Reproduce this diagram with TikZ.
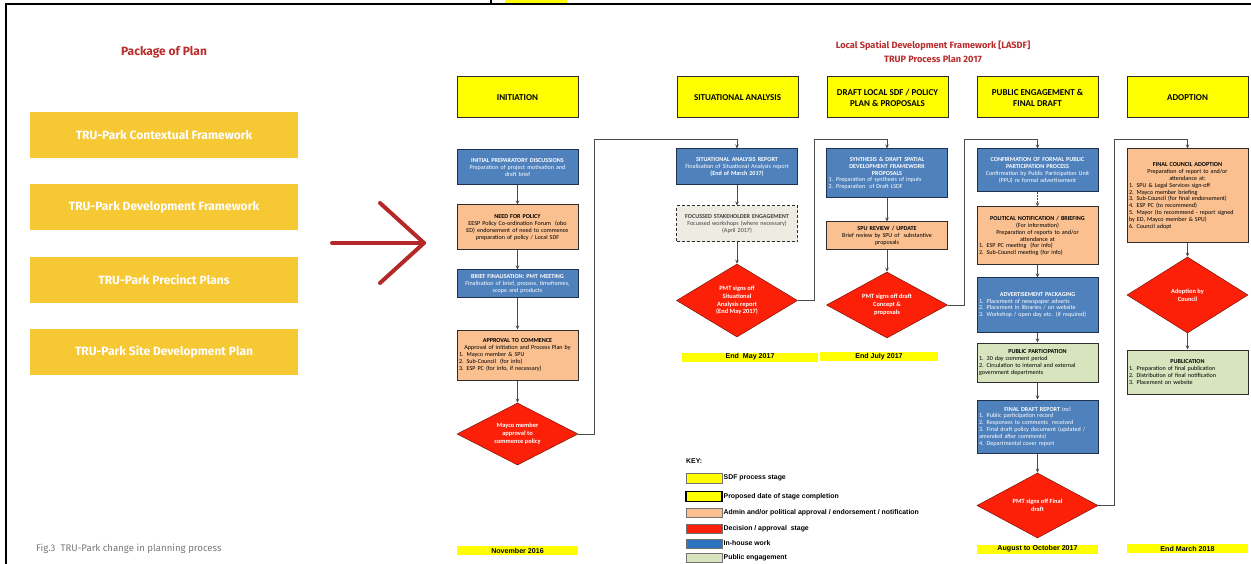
\documentclass[tikz,border=0pt]{standalone}
\usepackage{fontspec}
\setmainfont{Carlito}
\newfontfamily\arialf{Liberation Sans}
\newfontfamily\robf{Fira Sans}
\usetikzlibrary{shapes.geometric,arrows.meta}
\definecolor{yellowC}{RGB}{255,255,0}
\definecolor{goldC}{RGB}{246,200,52}
\definecolor{titleC}{RGB}{185,45,45}
\definecolor{arrowC}{RGB}{180,40,40}
\definecolor{blueC}{RGB}{79,129,189}
\definecolor{navyC}{RGB}{30,50,80}
\definecolor{peachC}{RGB}{250,192,144}
\definecolor{greenC}{RGB}{215,228,189}
\definecolor{redC}{RGB}{252,32,8}
\definecolor{decline}{RGB}{120,20,10}
\definecolor{boxline}{RGB}{45,45,45}
\definecolor{connC}{RGB}{75,75,75}
\definecolor{focusC}{RGB}{238,236,226}
\definecolor{keyblue}{RGB}{45,115,190}
\definecolor{capC}{RGB}{120,120,120}
\newcommand{\blst}[1]{\parbox[t]{117pt}{\raggedright #1}}
\begin{document}
\begin{tikzpicture}[x=1pt,y=-1pt,
  pbox/.style={rectangle, draw=boxline, line width=1pt, text width=118pt, inner xsep=1.5pt, inner ysep=0.5pt, align=center, font=\fontsize{6.1}{6.8}\selectfont},
  bluebox/.style={pbox, fill=blueC, draw=navyC, text=white},
  peachbox/.style={pbox, fill=peachC},
  greenbox/.style={pbox, fill=greenC},
  focusbox/.style={pbox, fill=focusC, dashed, dash pattern=on 3pt off 2pt, text=black!75},
  hdr/.style={rectangle, draw=boxline, line width=1pt, fill=yellowC, minimum width=121pt, minimum height=41pt, align=center, font=\fontsize{9}{11}\selectfont\bfseries, inner sep=0pt},
  dec/.style={diamond, draw=decline, line width=0.5pt, fill=redC, minimum width=121pt, inner sep=0pt, aspect=1.8, align=center, text=white, font=\fontsize{6.4}{7.8}\selectfont\bfseries},
  datebar/.style={rectangle, fill=yellowC, inner sep=0pt, minimum height=9pt, font=\arialf\fontsize{7.1}{8}\selectfont\bfseries},
  conn/.style={draw=connC, line width=0.7pt, -{Stealth[length=4pt,width=3.5pt]}},
  planbox/.style={rectangle, fill=goldC, minimum width=268pt, minimum height=46pt, inner sep=0pt, text=white, font=\robf\fontsize{12}{14}\selectfont\bfseries},
  swatch/.style={rectangle, draw=black!55, line width=0.5pt, minimum width=36pt, minimum height=9.5pt, inner sep=0pt},
  keylab/.style={anchor=west, inner sep=0pt, font=\arialf\fontsize{6.9}{8}\selectfont\bfseries}
]
\useasboundingbox (0,0) rectangle (1251,564);
\fill[white] (0,0) rectangle (1251,564);
% frame
\fill[yellowC] (505,0) rectangle (567,3);
\draw[line width=1.2pt] (491,0) -- (491,4);
\draw[line width=1.8pt] (5,4) -- (1251,4);
\draw[line width=2pt] (6,4) -- (6,564);

% left panel
\node[font=\robf\fontsize{12}{14}\selectfont\bfseries, text=titleC] (pkg) at (164,52) {Package of Plan};
\node[planbox] (pl1) at (164,135) {TRU-Park Contextual Framework};
\node[planbox] (pl2) at (164,207.5) {TRU-Park Development Framework};
\node[planbox] (pl3) at (164,280) {TRU-Park Precinct Plans};
\node[planbox] (pl4) at (164,352) {TRU-Park Site Development Plan};
\node[anchor=west, inner sep=0pt, font=\robf\fontsize{9.6}{11}\selectfont, text=capC] (cap) at (36,549) {Fig.3\ \ TRU-Park change in planning process};
\coordinate (arS) at (332,243);
\coordinate (arT) at (424,243);
\coordinate (arA) at (380,203);
\coordinate (arB) at (380,283);
\draw[arrowC, line width=4pt, line cap=round, line join=round] (arS) -- (arT);
\draw[arrowC, line width=4pt, line cap=round, line join=round] (arA) -- (arT) -- (arB);

% title
\node[font=\robf\fontsize{9.2}{14.3}\selectfont\bfseries, text=titleC, align=center] (title) at (933,52) {Local Spatial Development Framework [LASDF]\\TRUP Process Plan 2017};

% headers
\node[hdr] (h1) at (517.5,97.5) {INITIATION};
\node[hdr] (h2) at (737.5,97.5) {SITUATIONAL ANALYSIS};
\node[hdr] (h3) at (887.5,97.5) {DRAFT LOCAL SDF / POLICY\\PLAN \& PROPOSALS};
\node[hdr] (h4) at (1037.5,97.5) {PUBLIC ENGAGEMENT \&\\FINAL DRAFT};
\node[hdr] (h5) at (1187.5,97.5) {ADOPTION};

% column 1
\node[bluebox, minimum height=35pt] (b1) at (517.5,167.5) {\textbf{INITIAL PREPARATORY DISCUSSIONS}\\Preparation of project motivation and\\draft brief};
\node[peachbox, minimum height=45pt] (b2) at (517.5,227.5) {\textbf{NEED FOR POLICY}\\EESP Policy Co-ordination Forum\ \ (obo\\ED) endorsement of need to commence\\preparation of policy / Local SDF};
\node[bluebox, minimum height=28pt] (b3) at (517.5,284) {\textbf{BRIEF FINALISATION: PMT MEETING}\\Finalisation of brief, process, timeframes,\\scope and products};
\node[peachbox, minimum height=50pt] (b4) at (517.5,355) {\textbf{APPROVAL TO COMMENCE}\\Approval of initiation and Process Plan by\\\blst{1. Mayco member \& SPU\\2. Sub-Council\ \ (for info)\\3. ESP PC (for info, if necessary)}};
\node[dec, minimum height=62pt] (d1) at (517.5,434) {Mayco member\\approval to\\commence policy};
\node[datebar, minimum width=121pt] (t1) at (517.5,550.5) {November 2016};

% column 2
\node[bluebox, minimum height=36pt] (s1) at (737,167) {\textbf{SITUATIONAL ANALYSIS REPORT}\\Finalisation of Situational Analysis report\\\textbf{(End of March 2017)}};
\node[focusbox, minimum height=36pt] (s2) at (737,224) {\textbf{FOCUSSED STAKEHOLDER ENGAGEMENT}\\Focussed workshops (where necessary)\\(April 2017)};
\node[dec, minimum height=73pt] (d2) at (737,300.5) {PMT signs off\\Situational\\Analysis report\\(End May 2017)};
\node[datebar, minimum width=136pt] (t2) at (750,357) {End\ \ May 2017};

% column 3
\node[bluebox, minimum height=49pt] (y1) at (887,173.5) {\textbf{SYNTHESIS \& DRAFT SPATIAL}\\\textbf{DEVELOPMENT FRAMEWORK}\\\textbf{PROPOSALS}\\\blst{1. Preparation of synthesis of inputs\\2. Preparation\ \ of Draft LSDF}};
\node[peachbox, minimum height=28pt] (y2) at (887,236) {\textbf{SPU REVIEW / UPDATE}\\Brief review by SPU of\ \ substantive\\proposals};
\node[dec, minimum height=66pt] (d3) at (887,305) {PMT signs off draft\\Concept \&\\proposals};
\node[datebar, minimum width=118pt] (t3) at (879,356.5) {End July 2017};

% column 4
\node[bluebox, minimum height=43pt] (p1) at (1037.5,170.5) {\textbf{CONFIRMATION OF FORMAL PUBLIC}\\\textbf{PARTICIPATION PROCESS}\\Confirmation by Public Participation Unit\\(PPU) re formal advertisement};
\node[peachbox, minimum height=58pt] (p2) at (1037.5,236) {\textbf{POLITICAL NOTIFICATION / BRIEFING}\\(For information)\\Preparation of reports to and/or\\attendance at\\\blst{1. ESP PC meeting\ \ (for info)\\2. Sub-Council meeting (for info)}};
\node[bluebox, minimum height=54pt] (p3) at (1037.5,305) {\textbf{ADVERTISEMENT PACKAGING}\\\blst{1. Placement of newspaper adverts\\2. Placement in libraries / on website\\3. Workshop / open day etc. (if required)}};
\node[greenbox, minimum height=39pt] (p4) at (1037.5,362.5) {\textbf{PUBLIC PARTICIPATION}\\\blst{1. 30 day comment period\\2. Circulation to internal and external\\government departments}};
\node[bluebox, minimum height=53pt] (p5) at (1037.5,426.5) {\textbf{FINAL DRAFT REPORT} incl\\\blst{1. Public participation record\\2. Responses to comments\ \ received\\3. Final draft policy document (updated /\\amended after comments)\\4. Departmental cover report}};
\node[dec, minimum height=65pt] (d4) at (1037.5,505.5) {PMT signs off Final\\draft};
\node[datebar, minimum width=121pt] (t4) at (1037.5,549) {August to October 2017};

% column 5
\node[peachbox, minimum height=94pt] (a1) at (1187.5,196) {\textbf{FINAL COUNCIL ADOPTION}\\Preparation of report to and/or\\attendance at:\\\blst{1. SPU \& Legal Services sign-off\\2. Mayco member briefing\\3. Sub-Council (for final endorsement)\\4. ESP PC (to recommend)\\5. Mayor (to recommend - report signed\\by ED, Mayco member \& SPU)\\6. Council adopt}};
\node[dec, minimum height=76pt] (d5) at (1187.5,295) {Adoption by\\Council};
\node[greenbox, minimum height=44pt] (a2) at (1187.5,372) {\textbf{PUBLICATION}\\\blst{1. Preparation of final publication\\2. Distribution of final notification\\3. Placement on website}};
\node[datebar, minimum width=121pt] (t5) at (1187.5,548.5) {End March 2018};

% connectors inside columns
\draw[conn] (b1.south) -- (b2.north);
\draw[conn] (b2.south) -- (b3.north);
\draw[conn] (b3.south) -- (b4.north);
\draw[conn] (b4.south) -- (d1.north);
\draw[conn] (s1.south) -- (s2.north);
\draw[conn] (s2.south) -- (d2.north);
\draw[conn] (y1.south) -- (y2.north);
\draw[conn] (y2.south) -- (d3.north);
\draw[conn, dashed, dash pattern=on 2pt off 1pt] (p1.south) -- (p2.north);
\draw[conn] (p2.south) -- (p3.north);
\draw[conn] (p3.south) -- (p4.north);
\draw[conn] (p4.south) -- (p5.north);
\draw[conn] (p5.south) -- (d4.north);
\draw[conn] (a1.south) -- (d5.north);
\draw[conn] (d5.south) -- (a2.north);

% connectors between columns
\coordinate (r1) at (594,139);
\coordinate (r2) at (814,139);
\coordinate (r3) at (964,139);
\coordinate (r4) at (1114,139);
\draw[conn] (d1.east) -| (r1) -| (s1.north);
\draw[conn] (d2.east) -| (r2) -| (y1.north);
\draw[conn] (d3.east) -| (r3) -| (p1.north);
\draw[conn] (d4.east) -| (r4) -| (a1.north);

% key
\node[anchor=west, inner sep=0pt, font=\arialf\fontsize{6.9}{8}\selectfont\bfseries] (keyt) at (686,461) {KEY:};
\node[swatch, fill=yellowC] (ks1) at (704,478) {};
\node[swatch, fill=yellowC, draw=black, line width=1.2pt] (ks2) at (704,496.5) {};
\node[swatch, fill=peachC] (ks3) at (704,512.5) {};
\node[swatch, fill=redC] (ks4) at (704,528.5) {};
\node[swatch, fill=keyblue] (ks5) at (704,543.5) {};
\node[swatch, fill=greenC] (ks6) at (704,557.5) {};
\node[keylab] (kl1) at (723.5,478) {SDF process stage};
\node[keylab] (kl2) at (723.5,496.5) {Proposed date of stage completion};
\node[keylab] (kl3) at (723.5,512.5) {Admin and/or political approval / endorsement / notification};
\node[keylab] (kl4) at (723.5,528.5) {Decision / approval\ \ stage};
\node[keylab] (kl5) at (723.5,543.5) {In-house work};
\node[keylab] (kl6) at (723.5,557.5) {Public engagement};
\end{tikzpicture}
\end{document}
